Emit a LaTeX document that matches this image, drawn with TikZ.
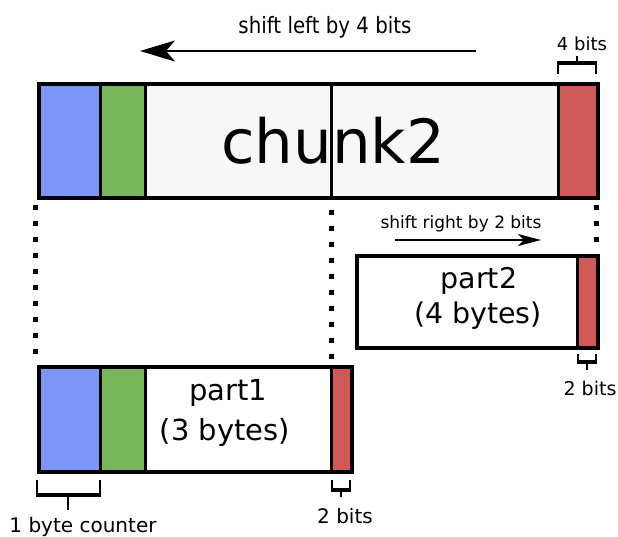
\documentclass[tikz,border=0pt]{standalone}
\usepackage{fontspec}
\usepackage{graphicx}
\setmainfont{DejaVu Sans}
\usetikzlibrary{arrows.meta}
\definecolor{cblue}{HTML}{7B96F4}
\definecolor{cgreen}{HTML}{77B65A}
\definecolor{cred}{HTML}{D05A5A}
\definecolor{cpale}{HTML}{F7F7F7}
\newcommand{\narrow}[1]{\scalebox{0.88}[1]{#1}}
\begin{document}
\begin{tikzpicture}[x=1pt,y=-1pt,
  frame/.style={draw, line width=4pt, inner sep=0pt, anchor=north west},
  divider/.style={line width=3pt},
  dotline/.style={line width=5pt, dash pattern=on 5pt off 11pt},
  bar/.style={line width=4pt},
  tick/.style={line width=1.6pt},
  txt/.style={inner sep=0pt, anchor=base},
  fs/.style={font=\fontsize{#1}{#1}\selectfont},
  shiftarrow/.style={line width=2pt},
]
\useasboundingbox (0,0) rectangle (618,536);

% ---- chunk2 ----
\fill[cblue]  (37,82) rectangle (100,196);
\fill[cgreen] (100,82) rectangle (145,196);
\fill[cpale]  (145,82) rectangle (558,196);
\fill[cred]   (558,82) rectangle (596,196);
\draw[divider] (100,82) -- (100,196);
\draw[divider] (145,82) -- (145,196);
\draw[divider] (331,82) -- (331,196);
\draw[divider] (558,82) -- (558,196);
\node[frame, minimum width=559pt, minimum height=114pt] (chunk) at (37,82) {};
\node[txt, fs=61] (chunklbl) at (333,163) {chunk2};

% shift left arrow
\node[txt, fs=22.5] (sltxt) at (325,33) {\narrow{shift left by 4 bits}};
\coordinate (slstart) at (476,51);
\coordinate (slend) at (140,51);
\draw[shiftarrow, -{Stealth[length=35pt,width=21pt,inset=9pt]}] (slstart) -- (slend);

% 4 bits bracket
\draw[bar] (557,63) -- (597,63);
\draw[tick] (557.8,63) -- (557.8,74);
\draw[tick] (596.2,63) -- (596.2,74);
\draw[tick] (577,63) -- (577,56);
\node[txt, fs=18] (fourbits) at (582,50) {4 bits};

% ---- part2 ----
\fill[white] (355,254) rectangle (577,346);
\fill[cred]  (577,254) rectangle (596,346);
\draw[divider] (577,254) -- (577,346);
\node[frame, minimum width=241pt, minimum height=92pt] (part2) at (355,254) {};
\node[txt, fs=28.5] (p2a) at (479,288) {part2};
\node[txt, fs=28.5] (p2b) at (478,323) {(4 bytes)};

% shift right arrow
\node[txt, fs=17] (srtxt) at (461,228) {shift right by 2 bits};
\coordinate (srstart) at (395,240);
\coordinate (srend) at (541,240);
\draw[line width=1.8pt, -{Stealth[length=23pt,width=12pt,inset=6pt]}] (srstart) -- (srend);

% bracket below part2's red field
\draw[bar] (577,362) -- (597,362);
\draw[tick] (577.8,354) -- (577.8,362);
\draw[tick] (596.2,354) -- (596.2,362);
\draw[tick] (587,362) -- (587,370);
\node[txt, fs=19] (twobitsA) at (590,395) {2 bits};

% ---- part1 ----
\fill[cblue]  (37,365) rectangle (100,470);
\fill[cgreen] (100,365) rectangle (145,470);
\fill[white]  (145,365) rectangle (331,470);
\fill[cred]   (331,365) rectangle (350,470);
\draw[divider] (100,365) -- (100,470);
\draw[divider] (145,365) -- (145,470);
\draw[divider] (331,365) -- (331,470);
\node[frame, minimum width=313pt, minimum height=105pt] (part1) at (37,365) {};
\node[txt, fs=29] (p1a) at (228,400) {part1};
\node[txt, fs=29] (p1b) at (225,440) {(3 bytes)};

% dotted guide lines
\coordinate (dl0) at (35,204.5);
\coordinate (dl1) at (35,356);
\coordinate (dm0) at (331,209.5);
\coordinate (dm1) at (331,359);
\coordinate (dr0) at (596,204.5);
\coordinate (dr1) at (596,242);
\draw[dotline] (dl0) -- (dl1);
\draw[dotline] (dm0) -- (dm1);
\draw[dotline] (dr0) -- (dr1);

% bracket below the counter byte
\draw[bar] (36,495) -- (101,495);
\draw[tick] (36.8,480) -- (36.8,495);
\draw[tick] (100.2,480) -- (100.2,495);
\draw[tick] (68,495) -- (68,510);
\node[txt, fs=20] (counter) at (83,532) {1 byte counter};

% bracket below part1's red field
\draw[bar] (331,490) -- (351,490);
\draw[tick] (331.8,480) -- (331.8,490);
\draw[tick] (350.2,480) -- (350.2,490);
\draw[tick] (341,490) -- (341,497);
\node[txt, fs=20] (twobitsB) at (345,523) {2 bits};
\end{tikzpicture}
\end{document}
